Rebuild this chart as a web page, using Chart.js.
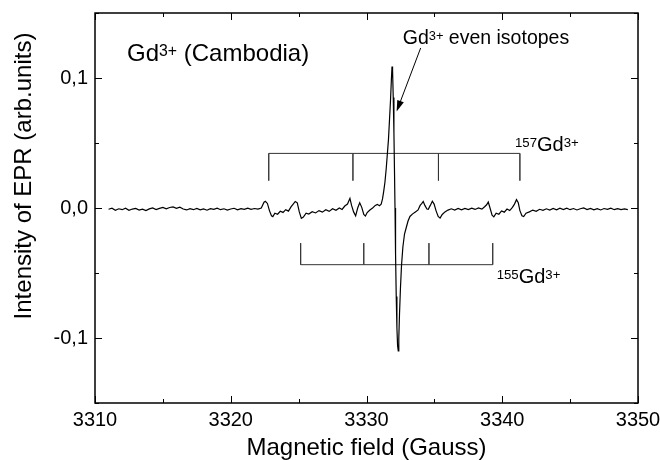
<!DOCTYPE html>
<html>
<head>
<meta charset="utf-8">
<script src="https://cdn.jsdelivr.net/npm/chart.js@4.4.1/dist/chart.umd.min.js"></script>
<style>
  html, body { margin: 0; padding: 0; background: #fff; }
  #wrap { width: 660px; height: 460px; }
</style>
</head>
<body>
<div id="wrap"><canvas id="epr"></canvas></div>
<script>
// EPR spectrum (field in Gauss, intensity in arb. units)
const field = [
  3311.00, 3311.25, 3311.50, 3311.75, 3312.00, 3312.25, 3312.50, 3312.75,
  3313.00, 3313.25, 3313.50, 3313.75, 3314.00, 3314.25, 3314.50, 3314.75,
  3315.00, 3315.25, 3315.50, 3315.75, 3316.00, 3316.25, 3316.50, 3316.75,
  3317.00, 3317.25, 3317.50, 3317.75, 3318.00, 3318.25, 3318.50, 3318.75,
  3319.00, 3319.25, 3319.50, 3319.75, 3320.00, 3320.25, 3320.50, 3320.75,
  3321.00, 3321.25, 3321.50, 3321.75, 3322.00, 3322.25,
  3322.45, 3322.55, 3322.70, 3322.85, 3323.00, 3323.10, 3323.25, 3323.45,
  3323.65, 3323.85, 3324.05, 3324.25, 3324.45, 3324.60, 3324.75, 3324.90,
  3325.05, 3325.20, 3325.35, 3325.55, 3325.75, 3326.00, 3326.25, 3326.50,
  3326.75, 3327.00, 3327.25, 3327.50, 3327.75, 3328.00, 3328.20, 3328.40,
  3328.60, 3328.78, 3328.90, 3329.05, 3329.20, 3329.35, 3329.50, 3329.65,
  3329.80, 3329.92, 3330.05, 3330.25, 3330.45, 3330.65, 3330.80, 3330.95,
  3331.08, 3331.18, 3331.27, 3331.36, 3331.45, 3331.54, 3331.62, 3331.70,
  3331.77, 3331.83, 3331.88, 3331.92, 3331.97, 3332.02, 3332.06, 3332.10,
  3332.14, 3332.19, 3332.24, 3332.29, 3332.34, 3332.38, 3332.43, 3332.50,
  3332.58, 3332.68, 3332.80, 3332.93, 3333.06, 3333.20, 3333.40, 3333.60,
  3333.80, 3333.95, 3334.08, 3334.18, 3334.30, 3334.45, 3334.55, 3334.70,
  3334.85, 3334.98, 3335.12, 3335.28, 3335.42, 3335.58, 3335.78, 3336.00,
  3336.25, 3336.50, 3336.75, 3337.00, 3337.25, 3337.50, 3337.75, 3338.00,
  3338.25, 3338.50, 3338.70, 3338.85, 3338.97, 3339.10, 3339.25, 3339.38,
  3339.55, 3339.75, 3339.95, 3340.15, 3340.35, 3340.55, 3340.75, 3340.90,
  3341.05, 3341.18, 3341.30, 3341.45, 3341.58, 3341.75, 3342.00, 3342.25,
  3342.50, 3342.75, 3343.00, 3343.25, 3343.50, 3343.75, 3344.00, 3344.25,
  3344.50, 3344.75, 3345.00, 3345.25, 3345.50, 3345.75, 3346.00, 3346.25,
  3346.50, 3346.75, 3347.00, 3347.25, 3347.50, 3347.75, 3348.00, 3348.25,
  3348.50, 3348.75, 3349.00, 3349.25
];
const intensity = [
  -0.0010, -0.0002, -0.0017, -0.0006, -0.0013, -0.0001, -0.0018, -0.0008,
  -0.0003, -0.0016, -0.0009, -0.0020, -0.0007,  0.0000, -0.0012, -0.0003,
   0.0005, -0.0006,  0.0004,  0.0008, -0.0003,  0.0006, -0.0008, -0.0015,
  -0.0005, -0.0013, -0.0003, -0.0014, -0.0007, -0.0017, -0.0005, -0.0011,
  -0.0001, -0.0013, -0.0006, -0.0016, -0.0008, -0.0002, -0.0014, -0.0005,
  -0.0011, -0.0001, -0.0010, -0.0004, -0.0009,  0.0000,
   0.0045,  0.0052,  0.0035, -0.0020, -0.0060, -0.0066, -0.0040, -0.0048,
  -0.0025, -0.0034, -0.0013, -0.0024,  0.0010,  0.0030,  0.0050,  0.0040,
  -0.0030, -0.0080, -0.0070, -0.0040, -0.0047, -0.0028, -0.0038, -0.0020,
  -0.0032, -0.0013, -0.0026, -0.0006, -0.0018,  0.0000, -0.0011,  0.0015,
   0.0030,  0.0074,  0.0020, -0.0030, -0.0060,  0.0000,  0.0040,  0.0005,
  -0.0050, -0.0062, -0.0035, -0.0015,  0.0000,  0.0020,  0.0028,  0.0018,
   0.0030,  0.0070,  0.0130,  0.0200,  0.0300,  0.0420,  0.0530,  0.0690,
   0.0830,  0.0980,  0.1088,  0.1060,  0.0850,  0.0580,  0.0300,  0.0000,
  -0.0350, -0.0680, -0.0920, -0.1060, -0.1100, -0.1000, -0.0820, -0.0620,
  -0.0440, -0.0300, -0.0200, -0.0150, -0.0100, -0.0065, -0.0045, -0.0030,
  -0.0015,  0.0020,  0.0035,  0.0050,  0.0020, -0.0008, -0.0010,  0.0020,
   0.0052,  0.0030, -0.0020, -0.0065, -0.0078, -0.0050, -0.0030, -0.0016,
  -0.0006, -0.0016, -0.0004, -0.0014, -0.0003, -0.0012, -0.0001, -0.0011,
   0.0000, -0.0009,  0.0010,  0.0025,  0.0046,  0.0000, -0.0055, -0.0068,
  -0.0040, -0.0048, -0.0023, -0.0032, -0.0008, -0.0020,  0.0005,  0.0030,
   0.0064,  0.0040, -0.0020, -0.0060, -0.0066, -0.0040, -0.0030, -0.0016,
  -0.0026, -0.0010, -0.0018, -0.0006, -0.0016, -0.0004, -0.0014, -0.0002,
  -0.0012, -0.0001, -0.0013, -0.0004, -0.0015, -0.0006,  0.0000, -0.0012,
  -0.0003, -0.0014, -0.0005, -0.0015, -0.0004, -0.0011, -0.0002, -0.0013,
  -0.0005, -0.0012, -0.0007, -0.0012
];

// hyperfine line positions (Gauss) and bracket levels [bar, tick end]
const lines157 = [3322.8, 3329.0, 3335.3, 3341.3];
const lines155 = [3325.15, 3329.8, 3334.6, 3339.3];
const level157 = [0.042, 0.021];
const level155 = [-0.0436, -0.027];

const xTickLabels = ['3310', '3320', '3330', '3340', '3350'];
const yTickLabels = ['-0,1', '0,0', '0,1'];

const FONT = '"Liberation Sans", Arial, sans-serif';

function bracket(pos, lv) {
  const pts = [];
  pos.forEach(f => {
    pts.push({ x: f, y: lv[0] });
    pts.push({ x: f, y: lv[1] });
    pts.push({ x: f, y: lv[0] });
  });
  return pts;
}

function drawRich(ctx, parts, x, y, size) {
  let cx = x;
  parts.forEach(p => {
    const s = p.sup ? size * 0.66 : size;
    ctx.font = s + 'px ' + FONT;
    ctx.fillText(p.t, cx, p.sup ? y - size * 0.2 : y);
    cx += ctx.measureText(p.t).width;
  });
}

const decor = {
  id: 'decor',
  afterDatasetsDraw(chart) {
    const { ctx, chartArea: a, scales: { x, y } } = chart;
    ctx.save();
    ctx.strokeStyle = '#000';
    ctx.fillStyle = '#000';

    // inward ticks on all four sides
    ctx.lineWidth = 1;
    ctx.beginPath();
    x.ticks.forEach(t => {
      const px = Math.round(x.getPixelForValue(t.value)) + 0.5;
      const len = Math.round(t.value) % 10 === 0 ? 7 : 4;
      ctx.moveTo(px, a.bottom); ctx.lineTo(px, a.bottom - len);
      ctx.moveTo(px, a.top); ctx.lineTo(px, a.top + len);
    });
    y.ticks.forEach(t => {
      const py = Math.round(y.getPixelForValue(t.value)) + 0.5;
      const len = Math.round(t.value * 100) % 10 === 0 ? 7 : 4;
      ctx.moveTo(a.left, py); ctx.lineTo(a.left + len, py);
      ctx.moveTo(a.right, py); ctx.lineTo(a.right - len, py);
    });
    ctx.stroke();

    ctx.lineWidth = 1.5;
    ctx.strokeRect(a.left, a.top, a.right - a.left, a.bottom - a.top);

    // annotations
    ctx.textBaseline = 'alphabetic';
    ctx.textAlign = 'left';
    drawRich(ctx, [{ t: 'Gd' }, { t: '3+', sup: true }, { t: ' (Cambodia)' }],
      x.getPixelForValue(3312.36), y.getPixelForValue(0.1133), 24);
    drawRich(ctx, [{ t: 'Gd' }, { t: '3+', sup: true }, { t: ' even isotopes' }],
      x.getPixelForValue(3332.67), y.getPixelForValue(0.1264), 19.5);
    drawRich(ctx, [{ t: '157', sup: true }, { t: 'Gd' }, { t: '3+', sup: true }],
      x.getPixelForValue(3340.94), y.getPixelForValue(0.0435), 20);
    drawRich(ctx, [{ t: '155', sup: true }, { t: 'Gd' }, { t: '3+', sup: true }],
      x.getPixelForValue(3339.59), y.getPixelForValue(-0.0577), 20);

    // arrow to the even-isotope line
    const x0 = x.getPixelForValue(3333.99), y0 = y.getPixelForValue(0.1231);
    const x1 = x.getPixelForValue(3332.22), y1 = y.getPixelForValue(0.0743);
    const ang = Math.atan2(y1 - y0, x1 - x0);
    ctx.lineWidth = 1;
    ctx.beginPath();
    ctx.moveTo(x0, y0);
    ctx.lineTo(x1 - 8 * Math.cos(ang), y1 - 8 * Math.sin(ang));
    ctx.stroke();
    ctx.beginPath();
    ctx.moveTo(x1, y1);
    ctx.lineTo(x1 - 11 * Math.cos(ang) + 3.5 * Math.sin(ang), y1 - 11 * Math.sin(ang) - 3.5 * Math.cos(ang));
    ctx.lineTo(x1 - 11 * Math.cos(ang) - 3.5 * Math.sin(ang), y1 - 11 * Math.sin(ang) + 3.5 * Math.cos(ang));
    ctx.closePath();
    ctx.fill();

    // axis titles
    ctx.font = '24px ' + FONT;
    ctx.textAlign = 'center';
    ctx.fillText('Magnetic field (Gauss)', (a.left + a.right) / 2, 455);
    ctx.save();
    ctx.translate(31, 176);
    ctx.rotate(-Math.PI / 2);
    ctx.fillText('Intensity of EPR (arb.units)', 0, 0);
    ctx.restore();

    ctx.restore();
  }
};

new Chart(document.getElementById('epr'), {
  type: 'line',
  data: {
    datasets: [
      {
        data: field.map((f, i) => ({ x: f, y: intensity[i] })),
        borderColor: '#000',
        borderWidth: 1.2,
        pointRadius: 0,
        tension: 0,
      },
      {
        data: bracket(lines157, level157),
        borderColor: '#333',
        borderWidth: 1,
        pointRadius: 0,
        borderJoinStyle: 'bevel',
      },
      {
        data: bracket(lines155, level155),
        borderColor: '#333',
        borderWidth: 1,
        pointRadius: 0,
        borderJoinStyle: 'bevel',
      },
    ],
  },
  options: {
    responsive: true,
    maintainAspectRatio: false,
    animation: false,
    layout: { padding: { top: 13, right: 22, left: 0, bottom: 0 } },
    plugins: { legend: { display: false }, tooltip: { enabled: false } },
    scales: {
      x: {
        type: 'linear',
        min: 3310,
        max: 3350,
        grid: { display: false, drawTicks: false },
        border: { display: false },
        ticks: {
          stepSize: 5,
          autoSkip: false,
          maxRotation: 0,
          padding: 5,
          color: '#000',
          font: { family: FONT, size: 20 },
          callback: v => {
            const i = xTickLabels.indexOf(String(Math.round(v)));
            return Math.round(v) % 10 === 0 && i >= 0 ? xTickLabels[i] : '';
          },
        },
        afterFit: s => { s.height = 57; s.paddingLeft = 0; s.paddingRight = 0; },
      },
      y: {
        min: -0.15,
        max: 0.15,
        grid: { display: false, drawTicks: false },
        border: { display: false },
        ticks: {
          stepSize: 0.05,
          autoSkip: false,
          padding: 7,
          color: '#000',
          font: { family: FONT, size: 20 },
          callback: v => {
            const k = Math.round(v * 100);
            if (k % 10 !== 0) return '';
            return yTickLabels[k / 10 + 1] || '';
          },
        },
        afterFit: s => { s.width = 95; s.paddingTop = 0; s.paddingBottom = 0; },
      },
    },
  },
  plugins: [decor],
});
</script>
</body>
</html>
